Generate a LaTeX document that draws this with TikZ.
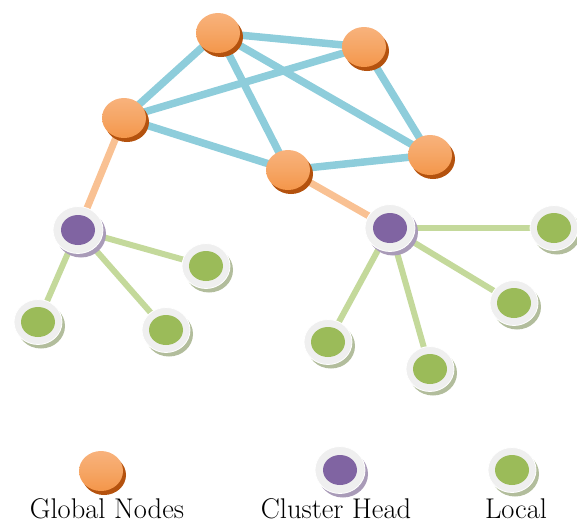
\documentclass[tikz,border=0pt]{standalone}
\usetikzlibrary{shadows}
\usetikzlibrary{shapes.geometric}
\definecolor{gorange}{HTML}{F4964A}
\definecolor{gorangel}{HTML}{F8B27C}
\definecolor{gshadow}{HTML}{B4520E}
\definecolor{cpurple}{HTML}{8064A2}
\definecolor{lgreen}{HTML}{9BBB59}
\definecolor{ringgray}{HTML}{EFEFEF}
\definecolor{bluee}{HTML}{8ECDDB}
\definecolor{orangee}{HTML}{F9C193}
\definecolor{greene}{HTML}{C4D99B}
\definecolor{pshadow}{HTML}{A99BB8}
\definecolor{lshadow}{HTML}{B2BD9C}
\tikzset{
  glob/.style={ellipse, minimum width=44pt, minimum height=40pt, inner sep=0pt,
    top color=gorangel, bottom color=gorange, middle color=gorange!85!white, draw=none,
    general shadow={fill=gshadow, shadow xshift=3pt, shadow yshift=-4pt}},
  chead/.style={ellipse, minimum width=50pt, minimum height=47pt, inner sep=0pt,
    fill=ringgray, draw=white, line width=0.8pt,
    general shadow={fill=pshadow, shadow xshift=3pt, shadow yshift=-4pt},
    path picture={\fill[cpurple] (path picture bounding box.center) ellipse (17pt and 15pt);}},
  loc/.style={ellipse, minimum width=48pt, minimum height=45pt, inner sep=0pt,
    fill=ringgray, draw=white, line width=0.8pt,
    general shadow={fill=lshadow, shadow xshift=3pt, shadow yshift=-4pt},
    path picture={\fill[lgreen] (path picture bounding box.center) ellipse (17pt and 15pt);}},
  be/.style={bluee, line width=7.5pt},
  oe/.style={orangee, line width=7pt},
  ge/.style={greene, line width=6pt},
  lab/.style={anchor=base, font=\fontsize{28.5}{32}\selectfont, inner sep=0pt}
}
\begin{document}
\begin{tikzpicture}[x=1pt,y=-1pt]
\useasboundingbox (0,0) rectangle (577,523);
% node positions
\coordinate (pG1) at (218,33);
\coordinate (pG2) at (364,47);
\coordinate (pG3) at (124,118);
\coordinate (pG4) at (288,170);
\coordinate (pG5) at (430,155);
\coordinate (pC1) at (78,230);
\coordinate (pC2) at (390,228);
\coordinate (pL1) at (206,266);
\coordinate (pL2) at (38,322);
\coordinate (pL3) at (166,330);
\coordinate (pL4) at (554,228);
\coordinate (pL5) at (514,303);
\coordinate (pL6) at (328,342);
\coordinate (pL7) at (430,369);
% edges
\draw[be] (pG1) -- (pG2);
\draw[be] (pG1) -- (pG3);
\draw[be] (pG1) -- (pG4);
\draw[be] (pG1) -- (pG5);
\draw[be] (pG2) -- (pG3);
\draw[be] (pG2) -- (pG5);
\draw[be] (pG3) -- (pG4);
\draw[be] (pG4) -- (pG5);
\draw[oe] (pG3) -- (pC1);
\draw[oe] (pG4) -- (pC2);
\draw[ge] (pC1) -- (pL1);
\draw[ge] (pC1) -- (pL2);
\draw[ge] (pC1) -- (pL3);
\draw[ge] (pC2) -- (pL4);
\draw[ge] (pC2) -- (pL5);
\draw[ge] (pC2) -- (pL6);
\draw[ge] (pC2) -- (pL7);
% nodes
\node[glob] (G1) at (pG1) {};
\node[glob] (G2) at (pG2) {};
\node[glob] (G3) at (pG3) {};
\node[glob] (G4) at (pG4) {};
\node[glob] (G5) at (pG5) {};
\node[chead] (C1) at (pC1) {};
\node[chead] (C2) at (pC2) {};
\node[loc] (L1) at (pL1) {};
\node[loc] (L2) at (pL2) {};
\node[loc] (L3) at (pL3) {};
\node[loc] (L4) at (pL4) {};
\node[loc] (L5) at (pL5) {};
\node[loc] (L6) at (pL6) {};
\node[loc] (L7) at (pL7) {};
% legend
\node[glob] (kG) at (101,471) {};
\node[chead] (kC) at (340,470) {};
\node[loc] (kL) at (512,470) {};
\node[lab] (tG) at (107,518) {Global Nodes};
\node[lab] (tC) at (336,518) {Cluster Head};
\node[lab] (tL) at (516,518) {Local};
\end{tikzpicture}
\end{document}
